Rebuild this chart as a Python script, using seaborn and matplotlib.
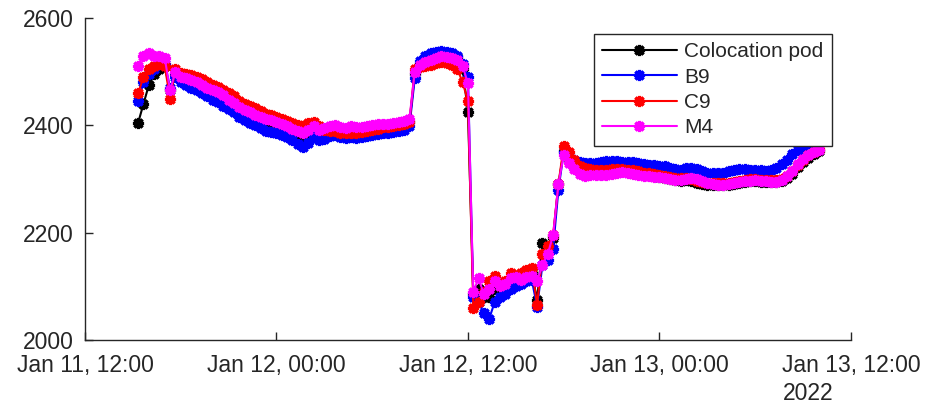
import pandas as pd
import seaborn as sns
import matplotlib.pyplot as plt
import matplotlib.dates as mdates

# time stamps, one every 20 minutes
times = pd.date_range('2022-01-11 15:20', periods=129, freq='20min')

# values
colocation = [2405, 2440, 2475, 2495, 2505, 2510, 2465, 2495,
              2484, 2482, 2478, 2474, 2470, 2464, 2460, 2455, 2448, 2442,
              2436, 2428, 2422, 2417, 2412, 2408, 2404, 2401, 2398, 2394,
              2390, 2385, 2380, 2375, 2382, 2390, 2384, 2386, 2390, 2392,
              2388, 2387, 2390, 2388, 2389, 2390, 2392, 2394, 2396, 2396,
              2398, 2400, 2402, 2406,
              2495, 2515, 2525, 2530, 2532, 2534, 2534, 2532, 2528, 2505, 2425,
              2085, 2095, 2080, 2080, 2095, 2095, 2100, 2110, 2115, 2115, 2120,
              2125, 2075, 2180, 2165, 2190, 2290, 2352, 2340, 2325, 2318, 2314,
              2314, 2313, 2312, 2313, 2314, 2314, 2314, 2313, 2312, 2310,
              2308, 2307, 2306, 2304, 2302, 2300, 2298, 2297, 2298, 2296,
              2293, 2290, 2289, 2288, 2288, 2288, 2289, 2291, 2293, 2295,
              2296, 2296, 2295, 2294, 2294, 2294, 2296, 2301, 2310, 2322,
              2332, 2340, 2346, 2352]

b9 = [2445, 2480, 2495, 2505, 2515, 2515, 2470, 2490,
      2480, 2476, 2470, 2465, 2460, 2454, 2448, 2443, 2436, 2430,
      2424, 2416, 2410, 2405, 2400, 2395, 2390, 2388, 2385, 2382,
      2378, 2372, 2366, 2360, 2368, 2378, 2372, 2375, 2380, 2382,
      2378, 2376, 2378, 2377, 2378, 2380, 2382, 2384, 2386, 2385,
      2388, 2390, 2392, 2398,
      2488, 2520, 2530, 2535, 2536, 2538, 2536, 2534, 2530, 2515, 2490,
      2080, 2070, 2050, 2040, 2070, 2080, 2085, 2095, 2100, 2105, 2110,
      2112, 2062, 2140, 2150, 2170, 2280, 2350, 2342, 2335, 2332, 2330,
      2330, 2330, 2331, 2333, 2334, 2333, 2332, 2332, 2331, 2329,
      2328, 2327, 2326, 2325, 2324, 2320, 2318, 2317, 2320, 2321,
      2318, 2314, 2312, 2311, 2311, 2312, 2314, 2316, 2318, 2318,
      2317, 2317, 2316, 2315, 2316, 2320, 2328, 2336, 2346, 2354,
      2362, 2368, 2374, 2380]

c9 = [2460, 2490, 2505, 2510, 2515, 2510, 2450, 2505,
      2498, 2496, 2493, 2490, 2486, 2480, 2476, 2472, 2466, 2460,
      2454, 2446, 2440, 2436, 2432, 2426, 2422, 2420, 2416, 2412,
      2408, 2404, 2400, 2398, 2404, 2406, 2398, 2392, 2390, 2390,
      2386, 2385, 2386, 2386, 2388, 2390, 2392, 2394, 2396, 2396,
      2398, 2400, 2402, 2406,
      2505, 2508, 2510, 2512, 2516, 2518, 2516, 2512, 2505, 2480, 2445,
      2060, 2070, 2090, 2110, 2120, 2105, 2110, 2125, 2120, 2125, 2130,
      2135, 2065, 2160, 2175, 2195, 2290, 2362, 2350, 2335, 2325, 2320,
      2318, 2317, 2316, 2317, 2318, 2318, 2318, 2317, 2316, 2314,
      2312, 2311, 2310, 2308, 2306, 2304, 2302, 2301, 2302, 2300,
      2297, 2294, 2293, 2292, 2292, 2292, 2293, 2295, 2297, 2299,
      2300, 2300, 2299, 2298, 2298, 2298, 2300, 2305, 2314, 2326,
      2336, 2344, 2350, 2356]

m4 = [2510, 2530, 2535, 2530, 2530, 2525, 2465, 2500,
      2490, 2488, 2484, 2480, 2476, 2470, 2466, 2462, 2456, 2448,
      2442, 2434, 2428, 2424, 2420, 2416, 2412, 2410, 2406, 2403,
      2398, 2394, 2390, 2386, 2392, 2398, 2392, 2395, 2398, 2400,
      2396, 2395, 2398, 2396, 2397, 2398, 2400, 2402, 2403, 2402,
      2404, 2406, 2408, 2412,
      2500, 2512, 2518, 2522, 2526, 2530, 2528, 2526, 2522, 2510, 2478,
      2090, 2115, 2085, 2095, 2110, 2100, 2105, 2115, 2118, 2112, 2118,
      2120, 2110, 2140, 2160, 2195, 2290, 2345, 2330, 2318, 2310, 2306,
      2308, 2308, 2307, 2308, 2310, 2312, 2313, 2312, 2310, 2308,
      2306, 2305, 2304, 2304, 2302, 2300, 2298, 2298, 2300, 2302,
      2300, 2296, 2292, 2290, 2289, 2289, 2290, 2292, 2294, 2296,
      2297, 2298, 2297, 2296, 2295, 2295, 2298, 2305, 2315, 2328,
      2338, 2345, 2350, 2354]

series_names = ['Colocation pod', 'B9', 'C9', 'M4']
series_colors = ['black', 'blue', 'red', 'magenta']

sns.set_style('ticks')
plt.rcParams['font.family'] = ['Liberation Sans', 'DejaVu Sans']
dark = '#262626'

fig = plt.figure(figsize=(9.38, 4.03), dpi=100)
ax = fig.add_axes([0.0906, 0.1563, 0.8166, 0.7990])

for name, vals, col in zip(series_names, [colocation, b9, c9, m4], series_colors):
    sns.lineplot(x=times, y=vals, ax=ax, color=col, label=name, estimator=None,
                 marker=(8, 2, 0), markersize=8, markeredgewidth=2.3,
                 markeredgecolor=col, linewidth=1.5)

ax.set_xlim(pd.Timestamp('2022-01-11 12:00'), pd.Timestamp('2022-01-13 12:00'))
ax.set_ylim(2000, 2600)
ax.set_yticks([2000, 2200, 2400, 2600])
ax.xaxis.set_major_locator(mdates.HourLocator(byhour=[0, 12]))
ax.xaxis.set_major_formatter(mdates.DateFormatter('%b %d, %H:%M'))
ax.set_xlabel('')
ax.set_ylabel('')

sns.despine(ax=ax)
for s in ['left', 'bottom']:
    ax.spines[s].set_color(dark)
    ax.spines[s].set_linewidth(1.0)
ax.tick_params(direction='in', length=6, width=1, color=dark,
               labelsize=16.5, labelcolor=dark)
ax.tick_params(axis='y', pad=8)
ax.tick_params(axis='x', pad=10)

leg = ax.legend(loc='upper right', bbox_to_anchor=(0.975, 0.950), fontsize=15,
                frameon=True, fancybox=False, edgecolor=dark, framealpha=1,
                handlelength=3.6, handletextpad=0.35, labelspacing=0.3,
                borderpad=0.4, borderaxespad=0)
leg.get_frame().set_linewidth(1.0)

fig.text(783 / 938, 1 - 393 / 403, '2022', ha='left', va='center',
         fontsize=16.5, color=dark)

fig.savefig('out.png', dpi=100)
